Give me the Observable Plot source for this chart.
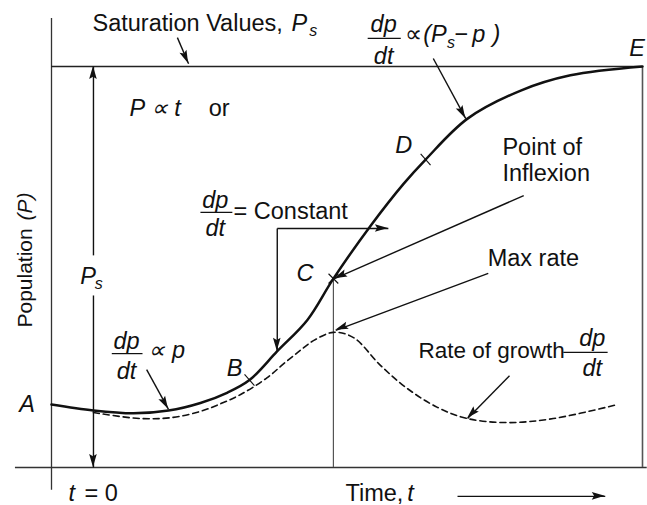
<!DOCTYPE html>
<html><head><meta charset="utf-8">
<script src="https://cdn.jsdelivr.net/npm/d3@7"></script>
<script src="https://cdn.jsdelivr.net/npm/@observablehq/plot@0.6"></script>
<style>body{margin:0;background:#fff}#chart svg{display:block}</style>
</head><body><div id="chart"></div>
<script>
// Population curve P(t) (S-shaped), Ps = 100
const popT = [0, 7.1, 13.9, 19.8, 25.2, 29.8, 33.5, 38.2, 43.3, 47.7, 54.0, 59.6, 63.3, 70.4, 79.4, 87.8, 100];
const popP = [15.7, 14.2, 13.5, 14.2, 16.1, 18.7, 21.8, 29.0, 36.8, 47.1, 60.3, 70.8, 76.8, 87.0, 94.0, 97.8, 100];
// Rate of growth dp/dt (dashed)
const rateT = [7.1, 15.1, 20.6, 25.2, 28.6, 32.0, 36.5, 39.3, 42.1, 44.4, 47.7, 51.1, 55.7, 60.2, 65.3, 70.4, 77.2, 84.9, 95.8];
const rateP = [13.7, 12.2, 12.5, 14.0, 15.9, 18.2, 22.4, 25.9, 29.2, 31.7, 33.7, 32.4, 25.4, 19.7, 15.0, 12.2, 11.2, 12.2, 15.7];
// marked points on the curve
const tickPoints = [{t: 33.5, p: 21.8}, {t: 63.3, p: 76.8}];
const inflexion = [{t: 47.7, p: 47.1}];
const saturation = 100;
const axisT = [-6.1, 100.8];
const axisP = [-5.7, 112];

// annotation arrows (data units)
const arrows = [
  {x1: 21.3, y1: 107.2, x2: 23.2, y2: 100.7},
  {x1: 7.1, y1: 52.9, x2: 7.1, y2: 100},
  {x1: 7.1, y1: 42.9, x2: 7.1, y2: 0},
  {x1: 64.6, y1: 102.0, x2: 70.1, y2: 87.0},
  {x1: 38.2, y1: 59.6, x2: 38.2, y2: 29.0},
  {x1: 38.2, y1: 59.6, x2: 57.0, y2: 59.6},
  {x1: 79.9, y1: 67.8, x2: 47.9, y2: 47.1},
  {x1: 73.9, y1: 48.4, x2: 48.1, y2: 34.2},
  {x1: 77.5, y1: 22.9, x2: 70.4, y2: 12.2},
  {x1: 16.1, y1: 24.4, x2: 19.8, y2: 14.5},
  {x1: 68.7, y1: -7.2, x2: 93.7, y2: -7.2}
];

// fractions dp/dt
const fractions = [
  {t: 56.2, num: 110.5, bar: 107.0, den: 102.6, t1: 53.5, t2: 59.1},
  {t: 27.7, num: 66.7, bar: 63.6, den: 59.7, t1: 25.2, t2: 30.6},
  {t: 91.5, num: 32.3, bar: 28.7, den: 24.8, t1: 86.6, t2: 94.1},
  {t: 12.7, num: 31.5, bar: 28.4, den: 24.0, t1: 10.2, t2: 15.4}
];

const textNormal = [
  {text: "Saturation Values,", t: 6.94, p: 110.8},
  {text: "or", t: 26.6, p: 89.6},
  {text: "= Constant", t: 30.8, p: 63.9},
  {text: "Point of", t: 76.3, p: 79.7},
  {text: "Inflexion", t: 76.3, p: 73.4},
  {text: "Max rate", t: 73.8, p: 52.2},
  {text: "= 0", t: 5.58, p: -6.4},
  {text: "Time,", t: 49.75, p: -6.4},
  {text: "∝", t: 59.8, p: 108.1},
  {text: "−", t: 68.2, p: 108.1}
];
const textItalic = [
  {text: "P", t: 40.6, p: 110.8},
  {text: "P ∝ t", t: 13.2, p: 89.6},
  {text: "(P", t: 62.9, p: 108.1},
  {text: "p", t: 71.2, p: 108.1},
  {text: ")", t: 74.6, p: 108.1},
  {text: "∝ p", t: 16.4, p: 29.3},
  {text: "t", t: 2.88, p: -6.4},
  {text: "t", t: 60.2, p: -6.4}
];
const letters = [
  {text: "A", t: -4.15, p: 15.6},
  {text: "B", t: 31.0, p: 24.8},
  {text: "C", t: 42.9, p: 48.5},
  {text: "D", t: 59.6, p: 80.4},
  {text: "E", t: 99.1, p: 104.6},
  {text: "P", t: 6.2, p: 47.7}
];
const subs = [
  {text: "s", t: 43.6, p: 109.0, anchor: "start"},
  {text: "s", t: 66.9, p: 105.8, anchor: "start"},
  {text: "s", t: 8.0, p: 45.7, anchor: "middle"}
];
const yLabel = [
  {text: "Population", t: -4.47, p: 34.9, italic: false},
  {text: "(P)", t: -4.47, p: 61.6, italic: true}
];

const FONT = "'Liberation Sans', Arial, Helvetica, sans-serif";
const FS = 23.5;
const INK = "#111";
const X_DOMAIN = [0, 100], Y_DOMAIN = [0, 100];
const W = 647, H = 505, ML = 51, MR = 5, MT = 66, MB = 38;

const tickSymbol = {
  draw(context, size) {
    const r = Math.sqrt(size / Math.PI);
    context.moveTo(-r * 0.66, -r * 0.75);
    context.lineTo(r * 0.66, r * 0.75);
  }
};

function arrowHeads(list, L = 13, hw = 3.8) {
  return (index, scales) => {
    const sx = scales && scales.x ? scales.x : d3.scaleLinear(X_DOMAIN, [ML, W - MR]);
    const sy = scales && scales.y ? scales.y : d3.scaleLinear(Y_DOMAIN, [H - MB, MT]);
    const g = d3.create("svg:g").attr("fill", INK).attr("stroke", "none");
    for (const a of list) {
      const x1 = sx(a.x1), y1 = sy(a.y1), x2 = sx(a.x2), y2 = sy(a.y2);
      const ang = Math.atan2(y2 - y1, x2 - x1);
      const ux = Math.cos(ang), uy = Math.sin(ang);
      const bx = x2 - ux * L, by = y2 - uy * L;
      const nx = x2 - ux * L * 0.82, ny = y2 - uy * L * 0.82;
      g.append("path").attr("d",
        `M${x2},${y2}L${bx - uy * hw},${by + ux * hw}L${nx},${ny}L${bx + uy * hw},${by - ux * hw}Z`);
    }
    return g.node();
  };
}

const chart = Plot.plot({
  width: W, height: H,
  marginLeft: ML, marginRight: MR, marginTop: MT, marginBottom: MB,
  x: {domain: X_DOMAIN, axis: null},
  y: {domain: Y_DOMAIN, axis: null},
  style: {fontFamily: FONT, background: "#fff", color: INK},
  marks: [
    // frame lines
    Plot.ruleX([0], {y1: axisP[0], y2: axisP[1], stroke: "#333", strokeWidth: 1.3}),
    Plot.ruleY([0], {x1: axisT[0], x2: axisT[1], stroke: "#333", strokeWidth: 1.3}),
    Plot.ruleY([saturation], {x1: 0, x2: 100, stroke: "#222", strokeWidth: 1.3}),
    Plot.ruleX([100], {y1: 0, y2: saturation, stroke: "#555", strokeWidth: 1.6}),
    Plot.ruleX(inflexion, {x: "t", y1: 0, y2: "p", stroke: "#555", strokeWidth: 1.2}),
    // curves
    Plot.line({length: rateT.length}, {x: rateT, y: rateP, curve: "catmull-rom", stroke: INK, strokeWidth: 1.6, strokeDasharray: "6,4"}),
    Plot.line({length: popT.length}, {x: popT, y: popP, curve: "catmull-rom", stroke: INK, strokeWidth: 2.5}),
    Plot.dot(tickPoints, {x: "t", y: "p", r: 7.5, symbol: tickSymbol, stroke: INK, strokeWidth: 1.1, fill: "none"}),
    Plot.dot(inflexion, {x: "t", y: "p", r: 4.5, symbol: "times", stroke: INK, strokeWidth: 1.1, fill: "none"}),
    // arrows
    Plot.link(arrows, {x1: "x1", y1: "y1", x2: "x2", y2: "y2", stroke: INK, strokeWidth: 1.4}),
    arrowHeads(arrows),
    // fractions
    Plot.link(fractions, {x1: "t1", x2: "t2", y1: "bar", y2: "bar", stroke: INK, strokeWidth: 1.2}),
    Plot.text(fractions, {x: "t", y: "num", text: () => "dp", fontStyle: "italic", fontSize: FS, fill: INK}),
    Plot.text(fractions, {x: "t", y: "den", text: () => "dt", fontStyle: "italic", fontSize: FS, fill: INK}),
    // texts
    Plot.text(textNormal, {x: "t", y: "p", text: "text", textAnchor: "start", fontSize: FS, fill: INK}),
    Plot.text(textItalic, {x: "t", y: "p", text: "text", textAnchor: "start", fontStyle: "italic", fontSize: FS, fill: INK}),
    Plot.text(letters, {x: "t", y: "p", text: "text", fontStyle: "italic", fontSize: FS, fill: INK}),
    Plot.text(subs.filter(d => d.anchor === "start"), {x: "t", y: "p", text: "text", textAnchor: "start", fontStyle: "italic", fontSize: 16, fill: INK}),
    Plot.text(subs.filter(d => d.anchor === "middle"), {x: "t", y: "p", text: "text", fontStyle: "italic", fontSize: 16, fill: INK}),
    Plot.text([{text: "Rate of growth", t: 62.1, p: 29.2}], {x: "t", y: "p", text: "text", textAnchor: "start", fontSize: 22.5, fill: INK}),
    Plot.text(yLabel.filter(d => !d.italic), {x: "t", y: "p", text: "text", textAnchor: "start", rotate: -90, fontSize: 21, fill: INK}),
    Plot.text(yLabel.filter(d => d.italic), {x: "t", y: "p", text: "text", textAnchor: "start", rotate: -90, fontStyle: "italic", fontSize: 21, fill: INK})
  ]
});
document.getElementById("chart").append(chart);
</script>
</body></html>
